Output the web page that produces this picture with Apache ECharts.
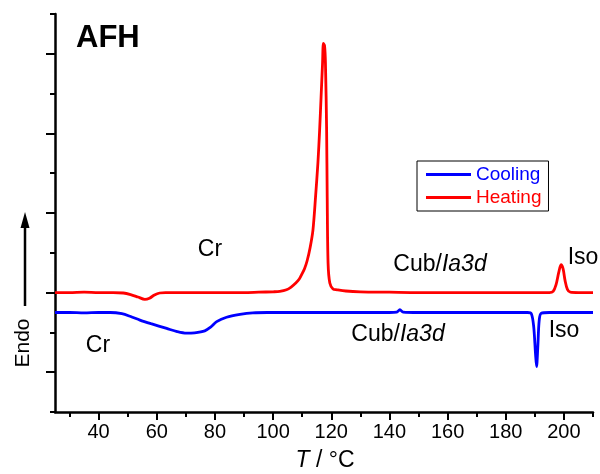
<!DOCTYPE html>
<html>
<head>
<meta charset="utf-8">
<script src="https://cdn.jsdelivr.net/npm/echarts@6/dist/echarts.min.js"></script>
<style>
  html, body { margin: 0; padding: 0; background: #fff; }
  #chart { width: 600px; height: 474px; }
</style>
</head>
<body>
<div id="chart"></div>
<script>
// DSC traces of AFH: temperature (°C) and heat flow (arbitrary units, endo up)
const tempHeating = [25, 30, 35, 40, 45, 48.5, 51, 53.5, 55.9, 57.5, 59.2, 61, 63, 70, 80, 90, 95, 100, 102.3, 104.6, 106.2, 107.8, 109.0, 109.8, 110.8, 111.7, 112.7, 113.7, 114.6, 115.4, 116.0, 116.5, 117.0, 117.3, 117.7, 118.0, 118.4, 118.6, 118.9, 119.5, 120.6, 122, 125, 130, 140, 150, 160, 170, 180, 190, 195, 196.3, 197.3, 198.2, 199.0, 199.7, 200.4, 201.2, 202.2, 205, 210];
const flowHeating = [3.00, 3.00, 3.01, 3.00, 3.00, 2.99, 2.95, 2.89, 2.83, 2.86, 2.94, 2.99, 3.00, 3.00, 3.00, 3.00, 3.01, 3.02, 3.03, 3.07, 3.14, 3.24, 3.34, 3.45, 3.60, 3.80, 4.12, 4.57, 5.41, 6.25, 7.09, 7.92, 8.76, 9.26, 9.20, 8.76, 7.09, 5.41, 3.74, 3.24, 3.09, 3.07, 3.04, 3.02, 3.01, 3.00, 3.00, 3.00, 3.00, 3.00, 3.00, 3.03, 3.20, 3.50, 3.70, 3.60, 3.30, 3.08, 3.01, 3.00, 3.00];

const tempCooling = [25, 30, 35, 40, 44, 48, 51, 54.2, 58, 63.4, 67, 70.2, 73, 76.5, 78.5, 80.6, 84, 88.6, 93, 98, 110, 125, 140, 142.5, 143.6, 144.7, 150, 165, 180, 187.5, 188.8, 189.6, 190.2, 190.6, 191.0, 191.5, 192.2, 195, 200, 210];
const flowCooling = [2.50, 2.50, 2.49, 2.50, 2.50, 2.47, 2.40, 2.31, 2.22, 2.10, 2.02, 1.98, 1.99, 2.04, 2.13, 2.27, 2.38, 2.45, 2.49, 2.50, 2.50, 2.50, 2.50, 2.51, 2.57, 2.51, 2.50, 2.50, 2.50, 2.50, 2.47, 2.15, 1.50, 1.14, 1.60, 2.30, 2.48, 2.50, 2.50, 2.50];

const seriesNames = ['Cooling', 'Heating'];
const seriesColors = ['#0000ff', '#ff0000'];

// axis ticks
const xMajorTicks = [40, 60, 80, 100, 120, 140, 160, 180, 200];
const xMinorTicks = [30, 50, 70, 90, 110, 130, 150, 170, 190, 210];
const yMajorTicks = [1, 3, 5, 7, 9];
const yMinorTicks = [0, 2, 4, 6, 8, 10];

const FONT = 'Liberation Sans, Arial, sans-serif';

function pairs(xs, ys) {
  return xs.map((x, i) => [x, ys[i]]);
}

function label(x, y, text, size) {
  return { type: 'text', x: x, y: y, style: { text: text, font: size + 'px ' + FONT, fill: '#000', align: 'center', verticalAlign: 'middle' } };
}

function phaseLabel(x, y) {
  return {
    type: 'text', x: x, y: y,
    style: {
      text: '{n|Cub/}{i|Ia3d}', align: 'center', verticalAlign: 'middle',
      rich: {
        n: { fontFamily: FONT, fontSize: 23, fill: '#000' },
        i: { fontFamily: FONT, fontSize: 23, fontStyle: 'italic', fill: '#000' }
      }
    }
  };
}

const chart = echarts.init(document.getElementById('chart'), null, { renderer: 'canvas' });

const axisBlack = { color: '#000', width: 2.5 };

chart.setOption({
  animation: false,
  backgroundColor: '#fff',
  grid: { left: 55, right: 7, top: 14, bottom: 62 },
  legend: {
    orient: 'vertical',
    left: 417,
    top: 161,
    padding: [4, 7, 4, 9],
    itemGap: 4,
    itemWidth: 45,
    itemHeight: 3,
    icon: 'rect',
    borderColor: '#000',
    borderWidth: 1,
    backgroundColor: '#fff',
    textStyle: { fontFamily: FONT, fontSize: 19 },
    data: seriesNames.map((n, i) => ({ name: n, textStyle: { color: seriesColors[i] } }))
  },
  xAxis: [
    {
      type: 'value', min: 25, max: 210, position: 'bottom',
      axisLine: { show: true, onZero: false, lineStyle: axisBlack },
      axisTick: { show: true, customValues: xMajorTicks, length: 8, lineStyle: { color: '#000', width: 2 } },
      axisLabel: { show: true, customValues: xMajorTicks, margin: 10, color: '#000', fontFamily: FONT, fontSize: 20 },
      splitLine: { show: false }
    },
    {
      type: 'value', min: 25, max: 210, position: 'bottom',
      axisLine: { show: false, onZero: false },
      axisTick: { show: true, customValues: xMinorTicks, length: 5, lineStyle: { color: '#000', width: 2 } },
      axisLabel: { show: false },
      splitLine: { show: false }
    }
  ],
  yAxis: [
    {
      type: 'value', min: 0, max: 10, position: 'left',
      axisLine: { show: true, onZero: false, lineStyle: axisBlack },
      axisTick: { show: true, customValues: yMajorTicks, length: 9, lineStyle: { color: '#000', width: 2 } },
      axisLabel: { show: false },
      splitLine: { show: false }
    },
    {
      type: 'value', min: 0, max: 10, position: 'left',
      axisLine: { show: false, onZero: false },
      axisTick: { show: true, customValues: yMinorTicks, length: 5, lineStyle: { color: '#000', width: 2 } },
      axisLabel: { show: false },
      splitLine: { show: false }
    }
  ],
  series: [
    {
      name: seriesNames[0], type: 'line', xAxisIndex: 0, yAxisIndex: 0,
      data: pairs(tempCooling, flowCooling),
      symbol: 'none', smooth: 0.3,
      lineStyle: { color: seriesColors[0], width: 2.8 },
      itemStyle: { color: seriesColors[0] }
    },
    {
      name: seriesNames[1], type: 'line', xAxisIndex: 0, yAxisIndex: 0,
      data: pairs(tempHeating, flowHeating),
      symbol: 'none', smooth: 0.3,
      lineStyle: { color: seriesColors[1], width: 2.8 },
      itemStyle: { color: seriesColors[1] }
    }
  ],
  graphic: [
    { type: 'text', x: 76, y: 38, style: { text: 'AFH', font: 'bold 31px ' + FONT, fill: '#000', align: 'left', verticalAlign: 'middle' } },
    label(210, 250, 'Cr', 23),
    label(98, 346, 'Cr', 23),
    phaseLabel(440, 265),
    phaseLabel(398, 335),
    label(583, 258, 'Iso', 23),
    label(564, 331, 'Iso', 23),
    {
      type: 'text', x: 325, y: 461,
      style: {
        text: '{i|T}{n| / °C}', align: 'center', verticalAlign: 'middle',
        rich: {
          n: { fontFamily: FONT, fontSize: 23, fill: '#000' },
          i: { fontFamily: FONT, fontSize: 23, fontStyle: 'italic', fill: '#000' }
        }
      }
    },
    { type: 'text', x: 23, y: 343, rotation: Math.PI / 2, style: { text: 'Endo', font: '21px ' + FONT, fill: '#000', align: 'center', verticalAlign: 'middle' } },
    { type: 'line', shape: { x1: 25, y1: 306, x2: 25, y2: 224 }, style: { stroke: '#000', lineWidth: 2.5 } },
    { type: 'polygon', shape: { points: [[25, 212], [20.5, 228], [29.5, 228]] }, style: { fill: '#000' } }
  ]
});
</script>
</body>
</html>
